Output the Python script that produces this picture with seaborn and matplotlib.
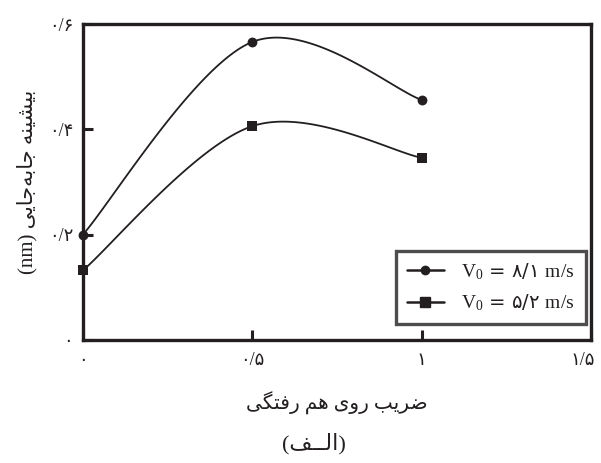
import numpy as np
import pandas as pd
import matplotlib
matplotlib.use('Agg')
import matplotlib.pyplot as plt
import matplotlib.transforms as mtransforms
from matplotlib.lines import Line2D
import seaborn as sns

# 데이터
overlap = [0.0, 0.5, 1.0]
disp_v81 = [0.20, 0.566, 0.456]
disp_v52 = [0.132, 0.406, 0.346]
xticks = [0.0, 0.5, 1.0, 1.5]
xtick_labels = ['۰', '۰/۵', '۱', '۱/۵']
yticks = [0.0, 0.2, 0.4, 0.6]
ytick_labels = ['۰', '۰/۲', '۰/۴', '۰/۶']
v0_values = ['۸/۱', '۵/۲']

# 아랍 문자 표시형 (시각 순서)
ylabel_txt = ('(nm) '
              + '\uFEF0\uFEF3\uFE8E\uFE9F\uFEEA\uFE91\uFE8E\uFE9F'
              + ' '
              + '\uFEEA\uFEE8\uFEF4\uFEB8\uFEF4\uFE91')
xlabel_txt = ('\uFEF0\uFB95\uFE98\uFED3\uFEAD'
              + ' ' + '\uFEE2\uFEEB'
              + ' ' + '\uFEEF\uFEED\uFEAD'
              + ' ' + '\uFE90\uFEF3\uFEAE\uFEBF')
caption_txt = '(\uFED2\u0640\u0640\uFEDF\uFE8D)'

INK = '#231f20'
FAM = ['Liberation Serif', 'DejaVu Sans']


def smooth(xs, ys, n=60):
    """엑셀식 부드러운 곡선 (베지어)"""
    pts = np.column_stack([xs, ys])
    out = []
    for i in range(len(pts) - 1):
        p0 = pts[max(i - 1, 0)]
        p1 = pts[i]
        p2 = pts[i + 1]
        p3 = pts[min(i + 2, len(pts) - 1)]
        c1 = p1 + (p2 - p0) / 6
        c2 = p2 - (p3 - p1) / 6
        t = np.linspace(0, 1, n)[:, None]
        seg = (1 - t) ** 3 * p1 + 3 * (1 - t) ** 2 * t * c1 + 3 * (1 - t) * t ** 2 * c2 + t ** 3 * p2
        out.append(seg)
    return np.vstack(out)


sns.set_theme(style='white')
plt.rcParams['font.family'] = FAM
plt.rcParams['mathtext.fontset'] = 'custom'
plt.rcParams['mathtext.rm'] = 'Liberation Serif'
plt.rcParams['mathtext.it'] = 'Liberation Serif:italic'
plt.rcParams['mathtext.bf'] = 'Liberation Serif:bold'

fig = plt.figure(figsize=(6.01, 4.63), dpi=100)
ax = fig.add_axes([0.138, 0.266, 0.845, 0.682])

for ys, mk, ms in [(disp_v81, 'o', 50), (disp_v52, 's', 55)]:
    curve = smooth(overlap, ys)
    sns.lineplot(x=curve[:, 0], y=curve[:, 1], sort=False, color=INK, lw=1.3, ax=ax)
    sns.scatterplot(x=overlap, y=ys, marker=mk, s=ms, color=INK, edgecolor=INK,
                    linewidth=0, zorder=5, clip_on=False, ax=ax)

ax.set_xlim(0, 1.5)
ax.set_ylim(0, 0.6)
ax.set_xticks(xticks)
ax.set_xticklabels(xtick_labels, fontsize=13, family=FAM)
ax.set_yticks(yticks)
ax.set_yticklabels(ytick_labels, fontsize=13, family=FAM)
ax.tick_params(axis='both', direction='in', length=7, width=2.2, color=INK,
               labelcolor=INK)
ax.tick_params(axis='y', pad=7)
ax.tick_params(axis='x', pad=9)
ax.tick_params(top=False, right=False, bottom=True, left=True)

# 마지막 눈금 라벨이 잘리지 않게 약간 왼쪽으로
last_lbl = ax.xaxis.get_major_ticks()[-1].label1
last_lbl.set_transform(last_lbl.get_transform()
                       + mtransforms.ScaledTranslation(-0.08, 0, fig.dpi_scale_trans))

for s in ax.spines.values():
    s.set_linewidth(2.4)
    s.set_color(INK)

ax.set_ylabel(ylabel_txt, fontsize=15, color=INK, labelpad=8, family=FAM)
ax.set_xlabel(xlabel_txt, fontsize=14.5, color=INK, labelpad=16, family=FAM)
fig.text(0.522, 0.03, caption_txt, fontsize=16, color=INK, ha='center', family=FAM)

legend_labels = [r'$\mathrm{V}_0$' + ' = ' + v + ' ' + r'$\mathrm{m/s}$' for v in v0_values]
handles = [
    Line2D([], [], color=INK, lw=1.8, marker='o', markersize=6),
    Line2D([], [], color=INK, lw=1.8, marker='s', markersize=6.5),
]
leg = ax.legend(handles, legend_labels, loc='lower right', bbox_to_anchor=(0.99, 0.05),
                borderaxespad=0, frameon=True, fancybox=False, edgecolor=INK,
                handlelength=1.9, handletextpad=0.9, borderpad=0.55, labelspacing=0.55,
                prop={'family': 'DejaVu Sans', 'size': 14})
leg.get_frame().set_linewidth(2.4)
for t in leg.get_texts():
    t.set_color(INK)

fig.savefig('out.png', dpi=100, facecolor='white')
